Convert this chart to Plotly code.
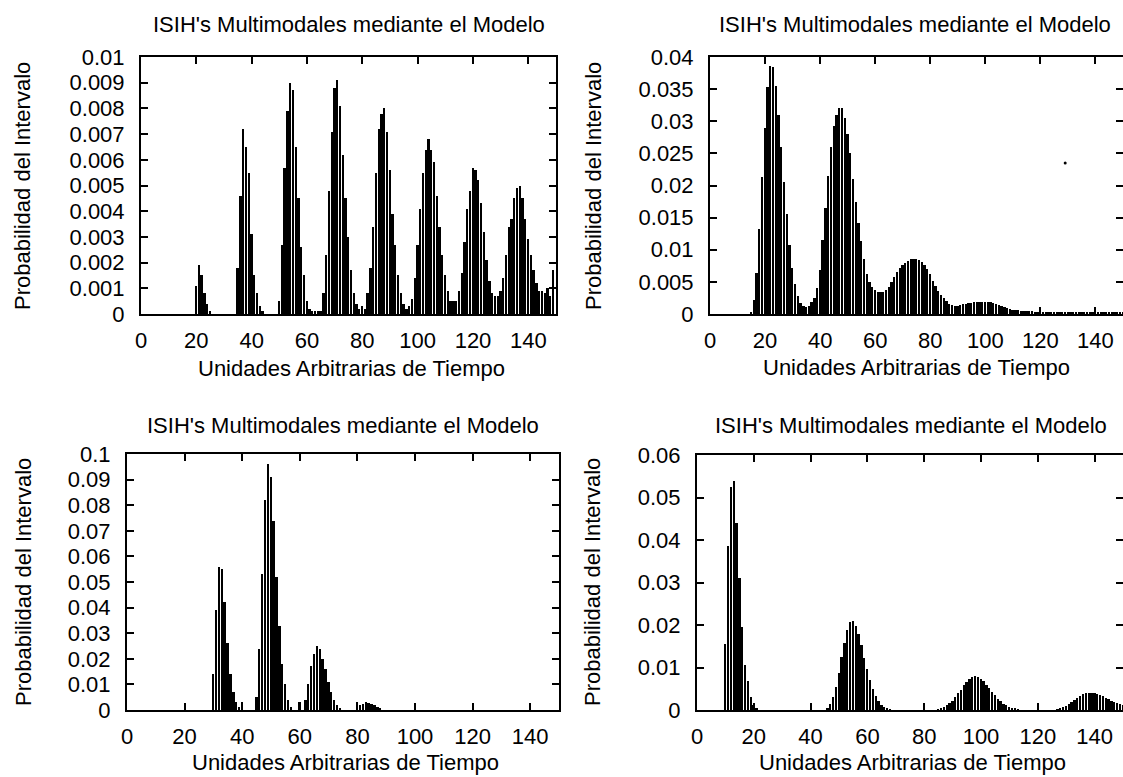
import plotly.graph_objects as go

# ---------------- data ----------------
title_text = "ISIH's Multimodales mediante el Modelo"
x_title = "Unidades Arbitrarias de Tiempo"
y_title = "Probabilidad del Intervalo"

x_ticks = [0, 20, 40, 60, 80, 100, 120, 140]
x_ticklabels = ["0", "20", "40", "60", "80", "100", "120", "140"]

# Panel 1 (top-left)
p1_x = list(range(20, 150))
p1_y = [
    0.0011, 0.0019, 0.0015, 0.0008, 0.0004, 0.0001, 0, 0, 0, 0,
    0, 0, 0, 0, 0, 0.0018, 0.0046, 0.0072, 0.0065, 0.0055,
    0.0031, 0.0015, 0.0008, 0.0003, 0.0001, 0, 0, 0, 0, 0,
    0.0005, 0.0027, 0.0057, 0.0079, 0.0090, 0.0087, 0.0065, 0.0045, 0.0026, 0.0015,
    0.0005, 0.0002, 0.0001, 0.0001, 0.0001, 0.0001, 0.0008, 0.0023, 0.0048, 0.0071,
    0.0088, 0.0091, 0.0081, 0.0062, 0.0045, 0.0030, 0.0017, 0.0008, 0.0004, 0.0002,
    0.0003, 0.0002, 0.0008, 0.0018, 0.0034, 0.0055, 0.0072, 0.0078, 0.0080, 0.0071,
    0.0056, 0.0039, 0.0027, 0.0015, 0.0008, 0.0004, 0.0002, 0.0003, 0.0006, 0.0014,
    0.0027, 0.0041, 0.0055, 0.0064, 0.0068, 0.0064, 0.0059, 0.0046, 0.0034, 0.0023,
    0.0015, 0.0009, 0.0005, 0.0005, 0.0005, 0.0009, 0.0016, 0.0028, 0.0041, 0.0048,
    0.0057, 0.0056, 0.0052, 0.0043, 0.0032, 0.0021, 0.0013, 0.0008, 0.0007, 0.0007,
    0.0009, 0.0014, 0.0023, 0.0034, 0.0037, 0.0045, 0.0049, 0.0050, 0.0045, 0.0037,
    0.0029, 0.0023, 0.0017, 0.0012, 0.0009, 0.0009, 0.0008, 0.0010, 0.0007, 0.0017,
]
p1_yticks = [0, 0.001, 0.002, 0.003, 0.004, 0.005, 0.006, 0.007, 0.008, 0.009, 0.01]
p1_yticklabels = ["0", "0.001", "0.002", "0.003", "0.004", "0.005", "0.006",
                  "0.007", "0.008", "0.009", "0.01"]

# Panel 2 (top-right)
p2_x = list(range(15, 151))
p2_y = [
    0.0002, 0.0022, 0.0064, 0.0133, 0.0214, 0.0290, 0.0353, 0.0386, 0.0384, 0.0355,
    0.0310, 0.0260, 0.0205, 0.0155, 0.0108, 0.0072, 0.0046, 0.0028, 0.0017, 0.0012,
    0.0011, 0.0013, 0.0018, 0.0025, 0.0040, 0.0068, 0.0115, 0.0165, 0.0215, 0.0260,
    0.0292, 0.0310, 0.0320, 0.0320, 0.0305, 0.0280, 0.0250, 0.0210, 0.0175, 0.0142,
    0.0113, 0.0085, 0.0062, 0.0050, 0.0042, 0.0037, 0.0034, 0.0034, 0.0035, 0.0037,
    0.0042, 0.0050, 0.0058, 0.0065, 0.0071, 0.0076, 0.0080, 0.0083, 0.0085, 0.0086,
    0.0086, 0.0084, 0.0081, 0.0076, 0.0070, 0.0062, 0.0052, 0.0043, 0.0036, 0.0030,
    0.0025, 0.0020, 0.0016, 0.0014, 0.0013, 0.0013, 0.0014, 0.0015, 0.0016, 0.0017,
    0.0017, 0.0018, 0.0018, 0.0019, 0.0019, 0.0019, 0.0018, 0.0018, 0.0017, 0.0015,
    0.0014, 0.0012, 0.0011, 0.0009, 0.0008, 0.0007, 0.0006, 0.0006, 0.0005, 0.0005,
    0.0004, 0.0004, 0.0004, 0.0003, 0.0003, 0.0003, 0.0003, 0.0003, 0.0003, 0.0002,
    0.0003, 0.0002, 0.0002, 0.0003, 0.0002, 0.0002, 0.0002, 0.0002, 0.0002, 0.0002,
    0.0002, 0.0002, 0.0002, 0.0002, 0.0002, 0.0002, 0.0002, 0.0002, 0.0002, 0.0002,
    0.0002, 0.0002, 0.0002, 0.0002, 0.0002, 0.0002,
]
p2_dot_x = [129]
p2_dot_y = [0.0235]
p2_yticks = [0, 0.005, 0.01, 0.015, 0.02, 0.025, 0.03, 0.035, 0.04]
p2_yticklabels = ["0", "0.005", "0.01", "0.015", "0.02", "0.025", "0.03", "0.035", "0.04"]

# Panel 3 (bottom-left)
p3_x = list(range(30, 89))
p3_y = [
    0.014, 0.039, 0.056, 0.055, 0.042, 0.026, 0.014, 0.007, 0.003, 0.001,
    0.003, 0, 0, 0, 0, 0.005, 0.024, 0.053, 0.082, 0.096,
    0.091, 0.074, 0.052, 0.033, 0.018, 0.010, 0.004, 0.001, 0, 0,
    0.003, 0, 0.004, 0.010, 0.017, 0.022, 0.025, 0.024, 0.020, 0.016,
    0.011, 0.007, 0.004, 0.002, 0.0005, 0, 0, 0, 0, 0,
    0.003, 0.002, 0.0025, 0.003, 0.0028, 0.0025, 0.002, 0.0012, 0.0006,
]
p3_yticks = [0, 0.01, 0.02, 0.03, 0.04, 0.05, 0.06, 0.07, 0.08, 0.09, 0.1]
p3_yticklabels = ["0", "0.01", "0.02", "0.03", "0.04", "0.05", "0.06",
                  "0.07", "0.08", "0.09", "0.1"]

# Panel 4 (bottom-right)
p4_x = list(range(10, 151))
p4_y = [
    0.0155, 0.0385, 0.0525, 0.0540, 0.0440, 0.0310, 0.0195, 0.0105, 0.0068, 0.0030,
    0.0012, 0.0004, 0, 0, 0, 0, 0, 0, 0, 0,
    0, 0, 0, 0, 0, 0, 0, 0, 0, 0,
    0, 0, 0, 0, 0, 0, 0.0005, 0.0015, 0.0030, 0.0053,
    0.0088, 0.0125, 0.0158, 0.0188, 0.0207, 0.0210, 0.0198, 0.0178, 0.0152, 0.0123,
    0.0096, 0.0070, 0.0049, 0.0033, 0.0021, 0.0012, 0.0007, 0.0004, 0.0002, 0,
    0, 0, 0, 0, 0, 0, 0, 0, 0, 0,
    0, 0, 0, 0, 0, 0.0002, 0.0004, 0.0007, 0.0011, 0.0016,
    0.0022, 0.0030, 0.0039, 0.0048, 0.0058, 0.0067, 0.0074, 0.0078, 0.0080, 0.0078,
    0.0074, 0.0068, 0.0060, 0.0052, 0.0043, 0.0035, 0.0027, 0.0021, 0.0015, 0.0011,
    0.0008, 0.0005, 0.0003, 0.0002, 0, 0, 0, 0, 0, 0,
    0, 0, 0, 0, 0, 0, 0, 0.0002, 0.0004, 0.0006,
    0.0009, 0.0013, 0.0018, 0.0023, 0.0028, 0.0033, 0.0037, 0.0039, 0.0041, 0.0041,
    0.0040, 0.0038, 0.0036, 0.0033, 0.0029, 0.0026, 0.0022, 0.0019, 0.0016, 0.0013,
    0.0011,
]
p4_yticks = [0, 0.01, 0.02, 0.03, 0.04, 0.05, 0.06]
p4_yticklabels = ["0", "0.01", "0.02", "0.03", "0.04", "0.05", "0.06"]

assert len(p1_x) == len(p1_y)
assert len(p2_x) == len(p2_y)
assert len(p3_x) == len(p3_y)
assert len(p4_x) == len(p4_y)

# ---------------- layout ----------------
W, H = 1123, 777
FONT = "Liberation Sans, Arial, Helvetica, sans-serif"
FS = 22

# pixel geometry of each panel: (left, right, top, bottom)
panels = [
    dict(px=(141, 556, 57, 314), x=p1_x, y=p1_y, ymax=0.01, yt=p1_yticks, ytl=p1_yticklabels,
         title_xy=(349, 25), xt_xy=(351, 368), yt_xy=(23, 186)),
    dict(px=(710, 1123, 57, 314), x=p2_x, y=p2_y, ymax=0.04, yt=p2_yticks, ytl=p2_yticklabels,
         title_xy=(915, 25), xt_xy=(916, 367), yt_xy=(594, 186)),
    dict(px=(127, 559, 454, 710), x=p3_x, y=p3_y, ymax=0.1, yt=p3_yticks, ytl=p3_yticklabels,
         title_xy=(343, 425), xt_xy=(345, 762), yt_xy=(23, 582)),
    dict(px=(697, 1123, 455, 710), x=p4_x, y=p4_y, ymax=0.06, yt=p4_yticks, ytl=p4_yticklabels,
         title_xy=(911, 425), xt_xy=(912, 762), yt_xy=(592, 582)),
]

fig = go.Figure()
layout = dict(
    width=W, height=H,
    margin=dict(l=0, r=0, t=0, b=0, autoexpand=False),
    paper_bgcolor="white", plot_bgcolor="white",
    showlegend=False,
    font=dict(family=FONT, color="black", size=FS),
    bargap=0,
)
annotations = []

for i, p in enumerate(panels, start=1):
    l, r, t, b = p["px"]
    xname = "x" if i == 1 else f"x{i}"
    yname = "y" if i == 1 else f"y{i}"
    fig.add_trace(go.Bar(
        x=p["x"], y=p["y"], width=0.65,
        marker=dict(color="black", line=dict(width=0)),
        xaxis=xname, yaxis=yname, hoverinfo="skip",
    ))
    axis_common = dict(
        showgrid=False, zeroline=False, showline=True, linecolor="black", linewidth=2,
        ticks="inside", ticklen=7, tickwidth=1.5, tickcolor="black", mirror="ticks",
        tickfont=dict(family=FONT, size=FS, color="black"), automargin=False,
    )
    layout["xaxis" + ("" if i == 1 else str(i))] = dict(
        axis_common,
        domain=[l / W, r / W], range=[0, 150],
        tickvals=x_ticks, ticktext=x_ticklabels,
        anchor=yname, ticklabelstandoff=6,
    )
    layout["yaxis" + ("" if i == 1 else str(i))] = dict(
        axis_common,
        domain=[1 - b / H, 1 - t / H], range=[0, p["ymax"]],
        tickvals=p["yt"], ticktext=p["ytl"],
        anchor=xname, ticklabelstandoff=10,
    )
    tx, ty = p["title_xy"]
    annotations.append(dict(text=title_text, x=tx / W, y=1 - ty / H, xref="paper", yref="paper",
                            showarrow=False, xanchor="center", yanchor="middle",
                            font=dict(family=FONT, size=FS, color="black")))
    ax_, ay_ = p["xt_xy"]
    annotations.append(dict(text=x_title, x=ax_ / W, y=1 - ay_ / H, xref="paper", yref="paper",
                            showarrow=False, xanchor="center", yanchor="middle",
                            font=dict(family=FONT, size=FS, color="black")))
    bx, by = p["yt_xy"]
    annotations.append(dict(text=y_title, x=bx / W, y=1 - by / H, xref="paper", yref="paper",
                            showarrow=False, xanchor="center", yanchor="middle", textangle=-90,
                            font=dict(family=FONT, size=FS, color="black")))

fig.add_trace(go.Scatter(x=p2_dot_x, y=p2_dot_y, mode="markers",
                         marker=dict(color="black", size=3), xaxis="x2", yaxis="y2",
                         hoverinfo="skip"))

layout["annotations"] = annotations
fig.update_layout(**layout)
fig.write_html("out.html")
